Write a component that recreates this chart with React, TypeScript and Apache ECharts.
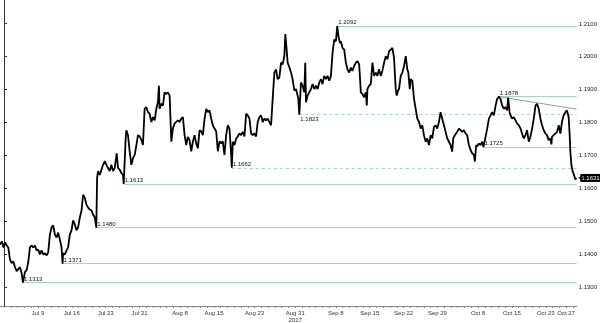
import React, { useEffect, useRef } from 'react';
import * as echarts from 'echarts';

// [trading day, price] — trading days counted from Mon Jul 3, 2017
const pricePath: [number, number][] = [
  [-0.60, 1.1429], [-0.31, 1.1438], [-0.08, 1.1420], [0.14, 1.1435], [0.39, 1.1426], [0.62, 1.1420],
  [0.87, 1.1384], [1.12, 1.1372], [1.36, 1.1378], [1.61, 1.1360], [1.86, 1.1348], [2.10, 1.1354],
  [2.35, 1.1360], [2.60, 1.1342], [2.79, 1.1313], [3.08, 1.1345], [3.33, 1.1351], [3.57, 1.1375],
  [3.82, 1.1420], [4.07, 1.1426], [4.31, 1.1420], [4.56, 1.1426], [4.81, 1.1411], [5.04, 1.1414],
  [5.29, 1.1399], [5.54, 1.1411], [5.78, 1.1399], [6.03, 1.1402], [6.28, 1.1396], [6.52, 1.1405],
  [6.77, 1.1459], [7.02, 1.1481], [7.25, 1.1487], [7.51, 1.1459], [7.76, 1.1450], [7.99, 1.1465],
  [8.24, 1.1444], [8.49, 1.1420], [8.64, 1.1371], [8.73, 1.1402], [8.98, 1.1399], [9.23, 1.1411],
  [9.46, 1.1420], [9.71, 1.1459], [9.96, 1.1472], [10.20, 1.1502], [10.45, 1.1490], [10.70, 1.1472],
  [10.94, 1.1481], [11.19, 1.1511], [11.44, 1.1532], [11.67, 1.1580], [11.92, 1.1571], [12.17, 1.1550],
  [12.41, 1.1541], [12.66, 1.1535], [12.91, 1.1532], [13.15, 1.1520], [13.40, 1.1511], [13.62, 1.1480],
  [13.74, 1.1631], [13.88, 1.1652], [14.13, 1.1640],
  [14.62, 1.1671], [14.87, 1.1682], [15.12, 1.1671], [15.35, 1.1661], [15.61, 1.1652], [15.85, 1.1671],
  [16.09, 1.1652], [16.34, 1.1661], [16.63, 1.1706], [16.83, 1.1661], [17.08, 1.1656], [17.33, 1.1646],
  [17.56, 1.1640], [17.67, 1.1613], [17.96, 1.1751], [18.07, 1.1776], [18.30, 1.1761], [18.55, 1.1712],
  [18.80, 1.1671], [19.04, 1.1691], [19.29, 1.1701], [19.54, 1.1731], [19.78, 1.1761], [20.03, 1.1757],
  [20.28, 1.1746], [20.51, 1.1731], [20.76, 1.1841], [21.01, 1.1846], [21.25, 1.1831], [21.50, 1.1826],
  [21.75, 1.1801], [21.99, 1.1816], [22.24, 1.1806], [22.49, 1.1841], [22.72, 1.1861], [22.87, 1.1911],
  [22.97, 1.1841], [23.22, 1.1856], [23.46, 1.1851], [23.71, 1.1891], [23.96, 1.1886], [24.20, 1.1891],
  [24.45, 1.1881], [24.70, 1.1741], [24.93, 1.1781], [25.18, 1.1796], [25.43, 1.1801], [25.67, 1.1806],
  [25.92, 1.1801], [26.17, 1.1811], [26.41, 1.1816], [26.66, 1.1761], [26.91, 1.1731], [27.14, 1.1756],
  [27.39, 1.1746], [27.64, 1.1712], [27.88, 1.1741], [28.13, 1.1761], [28.38, 1.1736], [28.62, 1.1721],
  [28.87, 1.1776],
  [29.12, 1.1772], [29.36, 1.1761], [29.61, 1.1811], [29.86, 1.1841], [30.09, 1.1831], [30.34, 1.1836],
  [30.59, 1.1811], [30.83, 1.1791], [31.08, 1.1781], [31.33, 1.1772], [31.57, 1.1712], [31.82, 1.1742],
  [32.07, 1.1736], [32.30, 1.1742], [32.55, 1.1701], [32.80, 1.1761], [33.04, 1.1791], [33.29, 1.1781],
  [33.54, 1.1701], [33.63, 1.1662], [33.78, 1.1741], [34.03, 1.1731], [34.28, 1.1751], [34.51, 1.1757],
  [34.76, 1.1766], [35.01, 1.1761], [35.25, 1.1771], [35.50, 1.1757], [35.75, 1.1826], [35.99, 1.1821],
  [36.24, 1.1811], [36.48, 1.1766], [36.72, 1.1761], [36.97, 1.1766], [37.22, 1.1757], [37.46, 1.1801],
  [37.71, 1.1816], [37.96, 1.1821], [38.20, 1.1801], [38.45, 1.1811], [38.70, 1.1806], [38.93, 1.1811],
  [39.18, 1.1801], [39.43, 1.1791], [39.67, 1.1871], [39.92, 1.1951], [40.17, 1.1961], [40.40, 1.1931],
  [40.66, 1.1936], [40.90, 1.1981], [41.14, 1.1976], [41.39, 1.2001], [41.54, 1.2068], [41.73, 1.2021],
  [41.88, 1.1981], [42.13, 1.1967], [42.38, 1.1951], [42.61, 1.1931], [42.87, 1.1896], [43.12, 1.1901],
  [43.35, 1.1881], [43.46, 1.1871], [43.60, 1.1823],
  [43.85, 1.1921], [44.09, 1.1911], [44.34, 1.1891], [44.48, 1.1981], [44.59, 1.1861], [44.82, 1.1881],
  [45.07, 1.1891], [45.32, 1.1901], [45.56, 1.1916], [45.81, 1.1901], [46.06, 1.1911], [46.30, 1.1901],
  [46.55, 1.1921], [46.80, 1.1931], [47.03, 1.1916], [47.28, 1.1941], [47.53, 1.1931], [47.77, 1.1941],
  [48.02, 1.1926], [48.27, 1.1941], [48.51, 1.2011], [48.76, 1.2051], [49.01, 1.2046], [49.20, 1.2092],
  [49.39, 1.2061], [49.60, 1.2041], [49.75, 1.2046], [49.98, 1.2026], [50.23, 1.2021], [50.48, 1.1981],
  [50.72, 1.1961], [50.97, 1.1951], [51.22, 1.1966], [51.45, 1.1956], [51.70, 1.1971], [51.95, 1.1981],
  [52.19, 1.1986], [52.44, 1.1976], [52.69, 1.1891], [52.92, 1.1886], [53.18, 1.1876], [53.43, 1.1891],
  [53.57, 1.1851], [53.66, 1.1901], [53.91, 1.1911], [54.16, 1.1916], [54.40, 1.1981], [54.65, 1.1941],
  [54.90, 1.1951], [55.13, 1.1941], [55.38, 1.1961], [55.63, 1.1941], [55.87, 1.1956], [56.12, 1.1981],
  [56.37, 1.2001], [56.61, 1.1991], [56.86, 1.2016], [57.11, 1.2021], [57.34, 1.2026], [57.59, 1.1996],
  [57.84, 1.1901], [57.99, 1.1881], [58.18, 1.1896],
  [58.33, 1.1901], [58.58, 1.1941], [58.82, 1.1951], [59.07, 1.1971], [59.32, 1.2001], [59.55, 1.1961],
  [59.70, 1.1951], [59.91, 1.1901], [60.05, 1.1931], [60.29, 1.1926], [60.54, 1.1871], [60.79, 1.1841],
  [61.03, 1.1811], [61.28, 1.1801], [61.53, 1.1781], [61.76, 1.1791], [62.01, 1.1761], [62.26, 1.1741],
  [62.50, 1.1751], [62.75, 1.1731], [63.00, 1.1761], [63.24, 1.1751], [63.49, 1.1786], [63.74, 1.1791],
  [63.97, 1.1781], [64.22, 1.1801], [64.47, 1.1831], [64.71, 1.1811], [64.96, 1.1791], [65.21, 1.1771],
  [65.45, 1.1751], [65.70, 1.1741], [65.94, 1.1731], [66.18, 1.1711], [66.33, 1.1751], [66.58, 1.1761],
  [66.92, 1.1771], [67.17, 1.1781], [67.42, 1.1776], [67.66, 1.1771], [67.91, 1.1776], [68.16, 1.1766],
  [68.39, 1.1761], [68.65, 1.1731], [68.89, 1.1716], [69.13, 1.1706], [69.38, 1.1701], [69.53, 1.1681],
  [69.72, 1.1731], [69.87, 1.1726], [70.12, 1.1736], [70.37, 1.1731], [70.61, 1.1741], [70.79, 1.1725],
  [71.11, 1.1756], [71.35, 1.1781], [71.60, 1.1811], [71.85, 1.1821], [72.08, 1.1831], [72.34, 1.1821],
  [72.59, 1.1851], [72.82, 1.1871], [73.07, 1.1878],
  [73.32, 1.1871], [73.56, 1.1851], [73.81, 1.1841], [74.06, 1.1846], [74.29, 1.1836], [74.44, 1.1875],
  [74.65, 1.1831], [74.79, 1.1821], [75.03, 1.1811], [75.28, 1.1816], [75.53, 1.1806], [75.77, 1.1796],
  [76.02, 1.1791], [76.27, 1.1781], [76.50, 1.1766], [76.75, 1.1751], [77.00, 1.1761], [77.24, 1.1776],
  [77.49, 1.1741], [77.73, 1.1756], [77.98, 1.1781], [78.23, 1.1811], [78.48, 1.1851], [78.71, 1.1856],
  [78.96, 1.1841], [79.21, 1.1811], [79.45, 1.1791], [79.70, 1.1776], [79.95, 1.1766], [80.18, 1.1761],
  [80.43, 1.1746], [80.68, 1.1751], [80.83, 1.1733], [80.92, 1.1756], [81.17, 1.1761], [81.42, 1.1766],
  [81.66, 1.1771], [81.91, 1.1791], [82.16, 1.1766], [82.39, 1.1801], [82.64, 1.1821], [82.89, 1.1831],
  [83.13, 1.1836], [83.38, 1.1816], [83.53, 1.1761], [83.63, 1.1711], [83.78, 1.1671], [83.97, 1.1651],
  [84.16, 1.1641], [84.37, 1.1626], [84.51, 1.1631],
];

// Support / resistance levels: price, start day, style
const levelValues = [1.1313, 1.1371, 1.1480, 1.1613, 1.1662, 1.1823, 1.2092, 1.1725, 1.1878];
const levelStarts = [2.79, 8.64, 13.62, 17.67, 33.63, 43.60, 49.20, 70.79, 73.07];
const levelDashed = [false, false, false, false, true, true, false, false, false];
const levelLabelBelow = [false, false, false, false, false, true, false, false, false];

const trendStart: [number, number] = [73.3, 1.1877];
const trendEnd: [number, number] = [84.56, 1.1840];

const dateLabels = ['Jul 9', 'Jul 16', 'Jul 23', 'Jul 31', 'Aug 8', 'Aug 15', 'Aug 23', 'Aug 31\n2017',
  'Sep 8', 'Sep 15', 'Sep 22', 'Sep 29', 'Oct 8', 'Oct 15', 'Oct 23', 'Oct 27'];
const dateLabelDays = [5, 10, 15, 20, 26, 31, 37, 43, 49, 54, 59, 64, 70, 75, 80, 83];
const dayTicks = Array.from({ length: 85 }, (_, i) => i);
const priceTicks = [1.13, 1.14, 1.15, 1.16, 1.17, 1.18, 1.19, 1.20, 1.21];

const X_MIN = -0.6;
const X_MAX = 84.56;
const Y_MIN = 1.12422;
const Y_MAX = 1.21714;

const LEVEL_COLOR = '#9fd6c8';
const FONT = 'Liberation Sans';

export default function App() {
  const ref = useRef<HTMLDivElement>(null);

  useEffect(() => {
    if (!ref.current) return;
    const chart = echarts.init(ref.current, undefined, { renderer: 'svg' });
    const lastPoint = pricePath[pricePath.length - 1];

    const markData: any[] = levelValues.map((v, i) => [
      {
        coord: [levelStarts[i], v],
        lineStyle: { type: levelDashed[i] ? [3, 3] : 'solid', color: LEVEL_COLOR, width: 1, opacity: 1 },
        label: {
          show: true,
          position: levelLabelBelow[i] ? 'insideStartBottom' : 'insideStartTop',
          formatter: v.toFixed(4),
          distance: [1, 1],
          color: '#111',
          fontSize: 6,
          fontFamily: FONT,
        },
      },
      { coord: [X_MAX, v] },
    ]);
    markData.push([
      { coord: trendStart, lineStyle: { type: 'solid', color: '#9a9a9a', width: 1, opacity: 1 }, label: { show: false } },
      { coord: trendEnd },
    ]);

    chart.setOption({
      animation: false,
      grid: { left: 0, right: 22, top: 0, bottom: 14.5, containLabel: false },
      xAxis: {
        type: 'value',
        min: X_MIN,
        max: X_MAX,
        axisLine: { show: true, lineStyle: { color: '#888', width: 1 } },
        axisTick: { show: true, customValues: dayTicks, length: 2, lineStyle: { color: '#888' } },
        axisLabel: {
          show: true,
          customValues: dateLabelDays,
          formatter: (val: number) => {
            const idx = dateLabelDays.findIndex((d) => Math.abs(d - val) < 0.01);
            return idx >= 0 ? dateLabels[idx] : '';
          },
          fontSize: 6,
          lineHeight: 7,
          fontFamily: FONT,
          color: '#333',
          margin: 3,
        },
        splitLine: { show: false },
      },
      yAxis: {
        type: 'value',
        position: 'right',
        min: Y_MIN,
        max: Y_MAX,
        axisLine: { show: true, lineStyle: { color: '#333', width: 1 } },
        axisTick: { show: true, customValues: priceTicks, length: 3, lineStyle: { color: '#333' } },
        axisLabel: {
          show: true,
          customValues: priceTicks,
          formatter: (val: number) => val.toFixed(4),
          fontSize: 6,
          fontFamily: FONT,
          color: '#222',
          margin: 2,
        },
        splitLine: { show: false },
      },
      series: [
        {
          type: 'line',
          data: pricePath,
          showSymbol: false,
          symbol: 'none',
          z: 3,
          lineStyle: { color: '#000', width: 1.8 },
          endLabel: {
            show: true,
            formatter: lastPoint[1].toFixed(4),
            backgroundColor: '#000',
            color: '#fff',
            fontSize: 6,
            fontFamily: FONT,
            padding: [1, 1],
            distance: 4,
          },
          markPoint: {
            silent: true,
            symbol: 'triangle',
            symbolSize: [5, 4],
            symbolRotate: 90,
            symbolOffset: [4, 0],
            itemStyle: { color: '#000' },
            label: { show: false },
            data: [{ coord: lastPoint }],
          },
          markLine: {
            silent: true,
            z: 1,
            symbol: ['none', 'none'],
            lineStyle: { color: LEVEL_COLOR, width: 1, opacity: 1 },
            data: markData,
          },
        },
      ],
    });

    return () => chart.dispose();
  }, []);

  return <div ref={ref} style={{ position: 'fixed', left: 0, top: 0, width: 600, height: 323 }} />;
}
